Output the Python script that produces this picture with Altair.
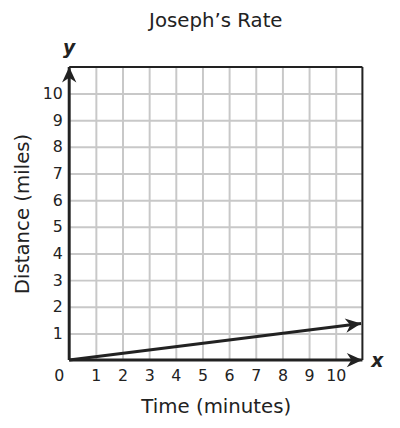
import math
import altair as alt
import pandas as pd

# ---- data ----
x_ticks = [1, 2, 3, 4, 5, 6, 7, 8, 9, 10]
y_ticks = [1, 2, 3, 4, 5, 6, 7, 8, 9, 10]
axis_max = 11
line_time = [0, 10.95]
line_distance = [0, 1.37]

FONT = "DejaVu Sans"
INK = "#222222"

xscale = alt.Scale(domain=[0, axis_max], nice=False, zero=False)
yscale = alt.Scale(domain=[0, axis_max], nice=False, zero=False)

xaxis = alt.Axis(values=x_ticks, grid=True, domain=False, ticks=False,
                 gridColor="#c8c8c8", gridWidth=2, labelFontSize=16,
                 labelFont=FONT, labelColor=INK, labelPadding=8,
                 title="Time (minutes)", titleFont=FONT, titleFontSize=20,
                 titleFontWeight="normal", titleColor=INK, titlePadding=13)
yaxis = alt.Axis(values=y_ticks, grid=True, domain=False, ticks=False,
                 gridColor="#c8c8c8", gridWidth=2, labelFontSize=16,
                 labelFont=FONT, labelColor=INK, labelPadding=7,
                 title="Distance (miles)", titleFont=FONT, titleFontSize=20,
                 titleFontWeight="normal", titleColor=INK, titlePadding=10)

X = lambda f: alt.X(f, type="quantitative", scale=xscale, axis=xaxis)
Y = lambda f: alt.Y(f, type="quantitative", scale=yscale, axis=yaxis)

# frame (top and right)
frame_df = pd.DataFrame({"x": [0, axis_max], "y": [axis_max, 0],
                         "x2": [axis_max, axis_max], "y2": [axis_max, axis_max]})
frame = alt.Chart(frame_df).mark_rule(color=INK, strokeWidth=2).encode(
    x=X("x"), y=Y("y"), x2="x2", y2="y2")

# axis lines
axes_df = pd.DataFrame({"x": [0, 0], "y": [0, 0],
                        "x2": [0, axis_max], "y2": [axis_max, 0]})
axes_lines = alt.Chart(axes_df).mark_rule(color=INK, strokeWidth=3).encode(
    x=X("x"), y=Y("y"), x2="x2", y2="y2")

# data line
line_df = pd.DataFrame({"t": line_time, "d": line_distance})
data_line = alt.Chart(line_df).mark_line(color=INK, strokeWidth=3).encode(
    x=X("t"), y=Y("d"))

# arrowheads (custom path in the -1..1 box, tip at origin)
ang = 360 - math.degrees(math.atan2(line_distance[-1] - line_distance[0],
                                    line_time[-1] - line_time[0]))
arrow_df = pd.DataFrame({"x": [0, axis_max, line_time[-1]],
                         "y": [axis_max, 0, line_distance[-1]],
                         "angle": [270, 0, ang]})
arrows = alt.Chart(arrow_df).mark_point(
    shape="M0,0 L-1,-0.46 L-0.7,0 L-1,0.46 Z", size=1000, filled=True,
    color=INK, opacity=1, strokeWidth=0).encode(
    x=X("x"), y=Y("y"), angle=alt.Angle("angle:Q", scale=None))

# special labels
zero_lbl = alt.Chart(pd.DataFrame({"x": [0], "y": [0], "t": ["0"]})).mark_text(
    font=FONT, fontSize=16, color=INK, dx=-10, dy=16).encode(
    x=X("x"), y=Y("y"), text="t:N")
y_lbl = alt.Chart(pd.DataFrame({"x": [0], "y": [axis_max], "t": ["y"]})).mark_text(
    font=FONT, fontSize=19, fontStyle="italic", fontWeight="bold", color=INK,
    dy=-19).encode(x=X("x"), y=Y("y"), text="t:N")
x_lbl = alt.Chart(pd.DataFrame({"x": [axis_max], "y": [0], "t": ["x"]})).mark_text(
    font=FONT, fontSize=19, fontStyle="italic", fontWeight="bold", color=INK,
    dx=15, dy=1).encode(x=X("x"), y=Y("y"), text="t:N")

chart = alt.layer(frame, axes_lines, data_line, arrows, zero_lbl, y_lbl, x_lbl).properties(
    width=297, height=297,
    title=alt.Title("Joseph’s Rate", font=FONT, fontSize=20, fontWeight="normal",
                    color=INK, frame="group", anchor="middle", offset=8),
    autosize=alt.AutoSizeParams(type="none"),
    padding={"left": 62, "top": 57, "right": 30, "bottom": 56},
).configure_view(stroke=None).configure(background="white")

chart.save("out.html", embed_options={"renderer": "svg", "actions": False})
